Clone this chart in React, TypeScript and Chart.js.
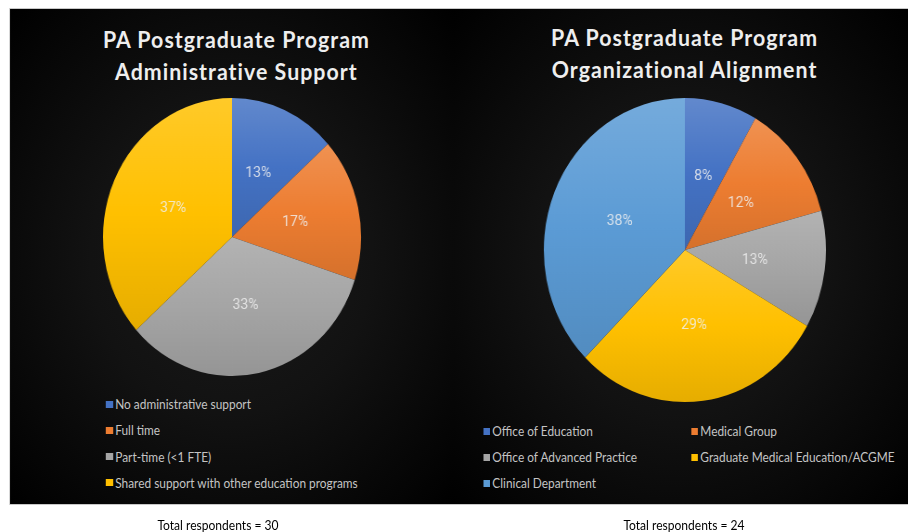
import React, { useEffect, useRef } from "react";
import { Chart, registerables } from "chart.js";

Chart.register(...registerables);

// ---- Data ----
const leftTitle = ["PA Postgraduate Program", "Administrative Support"];
const leftCategories = [
  "No administrative support",
  "Full time",
  "Part-time (<1 FTE)",
  "Shared support with other education programs",
];
const leftValues = [4, 5, 10, 11];
const leftPctLabels = ["13%", "17%", "33%", "37%"];
const leftColors = ["#4472C4", "#ED7D31", "#A5A5A5", "#FFC000"];
const leftTotal = "Total respondents = 30";

const rightTitle = ["PA Postgraduate Program", "Organizational Alignment"];
const rightCategories = [
  "Office of Education",
  "Medical Group",
  "Office of Advanced Practice",
  "Graduate Medical Education/ACGME",
  "Clinical Department",
];
const rightValues = [2, 3, 3, 7, 9];
const rightPctLabels = ["8%", "12%", "13%", "29%", "38%"];
const rightColors = ["#4472C4", "#ED7D31", "#A5A5A5", "#FFC000", "#5B9BD5"];
const rightTotal = "Total respondents = 24";

// ---- Helpers ----
const SX = 0.928; // horizontal squash of the reference picture

function mix(hex: string, target: number, amt: number) {
  const n = parseInt(hex.slice(1), 16);
  const r = (n >> 16) & 255, g = (n >> 8) & 255, b = n & 255;
  const f = (c: number) => Math.round(c + (target - c) * amt);
  return `rgb(${f(r)},${f(g)},${f(b)})`;
}

function sliceGradient(colors: string[]) {
  return (ctx: any) => {
    const chart = ctx.chart;
    const area = chart.chartArea;
    const base = colors[ctx.dataIndex % colors.length];
    if (!area) return base;
    const data: number[] = chart.data.datasets[0].data as number[];
    const total = data.reduce((a, b) => a + b, 0);
    const before = data.slice(0, ctx.dataIndex).reduce((a, b) => a + b, 0);
    const start = -Math.PI / 2 + (before / total) * Math.PI * 2;
    const end = start + (data[ctx.dataIndex] / total) * Math.PI * 2;
    const cx = (area.left + area.right) / 2;
    const cy = (area.top + area.bottom) / 2;
    const r = Math.min(area.right - area.left, area.bottom - area.top) / 2;
    let minY = cy, maxY = cy;
    for (let i = 0; i <= 60; i++) {
      const a = start + ((end - start) * i) / 60;
      const y = cy + r * Math.sin(a);
      minY = Math.min(minY, y);
      maxY = Math.max(maxY, y);
    }
    const g = chart.ctx.createLinearGradient(0, minY, 0, maxY);
    g.addColorStop(0, mix(base, 255, 0.16));
    g.addColorStop(0.5, base);
    g.addColorStop(1, mix(base, 0, 0.1));
    return g;
  };
}

function labelPlugin(labels: string[]) {
  return {
    id: "pctLabels",
    afterDatasetsDraw(chart: any) {
      const meta = chart.getDatasetMeta(0);
      const c = chart.ctx;
      c.save();
      c.font = '15px Roboto, "Noto Sans", sans-serif';
      c.fillStyle = "rgba(240,240,240,0.82)";
      c.textAlign = "center";
      c.textBaseline = "middle";
      meta.data.forEach((arc: any, i: number) => {
        const p = arc.tooltipPosition();
        c.fillText(labels[i], p.x, p.y);
      });
      c.restore();
    },
  };
}

type PieProps = {
  categories: string[];
  values: number[];
  colors: string[];
  pctLabels: string[];
  radius: number;
  cx: number;
  cy: number;
};

function Pie({ categories, values, colors, pctLabels, radius, cx, cy }: PieProps) {
  const ref = useRef<HTMLCanvasElement>(null);
  const size = radius * 2 + 4;
  useEffect(() => {
    if (!ref.current) return;
    const chart = new Chart(ref.current, {
      type: "pie",
      data: {
        labels: categories,
        datasets: [
          {
            data: values,
            backgroundColor: sliceGradient(colors) as any,
            borderWidth: 0,
          },
        ],
      },
      options: {
        responsive: false,
        maintainAspectRatio: false,
        animation: false,
        devicePixelRatio: 1,
        layout: { padding: 2 },
        plugins: { legend: { display: false }, tooltip: { enabled: false }, title: { display: false } },
      },
      plugins: [labelPlugin(pctLabels)],
    });
    return () => chart.destroy();
  }, []);
  return (
    <canvas
      ref={ref}
      width={size}
      height={size}
      style={{ position: "absolute", left: cx - size / 2, top: cy - size / 2, width: size, height: size }}
    />
  );
}

const textFont = 'Lato, "Open Sans", sans-serif';

function Title({ lines, cx, top }: { lines: string[]; cx: number; top: number }) {
  return (
    <div
      style={{
        position: "absolute",
        left: cx - 200,
        width: 400,
        top,
        textAlign: "center",
        color: "#eeeeee",
        font: `bold 23px ${textFont}`,
        lineHeight: "32px",
        letterSpacing: "1.1px",
        whiteSpace: "nowrap",
      }}
    >
      {lines.map((l, i) => (
        <div key={i}>{l}</div>
      ))}
    </div>
  );
}

function LegendItem({ label, color, x, y }: { label: string; color: string; x: number; y: number }) {
  return (
    <div style={{ position: "absolute", left: x, top: y - 10, height: 20, display: "flex", alignItems: "center", whiteSpace: "nowrap" }}>
      <div style={{ width: 7.5, height: 7, background: color, marginRight: 2.5 }} />
      <span style={{ font: `12.8px ${textFont}`, color: "#c4c4c4" }}>{label}</span>
    </div>
  );
}

const panelBg = "radial-gradient(ellipse at 50% 50%, #1b1b1b 0%, #121212 45%, #050505 85%, #000 100%)";

export default function App() {
  const innerW = 908 / SX;
  const leftX = 10 / SX;
  const midX = 453 / SX;
  return (
    <div style={{ position: "absolute", left: 0, top: 0, width: 908, height: 532, overflow: "hidden", background: "#fff" }}>
      <div style={{ position: "absolute", left: 0, top: 0, width: innerW, height: 532, transform: `scaleX(${SX})`, transformOrigin: "0 0" }}>
        {/* outer light frame */}
        <div style={{ position: "absolute", left: leftX - 1, top: 8, width: innerW - leftX + 4, height: 497, background: "#c8c8c8" }} />
        {/* dark base under both panels to avoid seams */}
        <div style={{ position: "absolute", left: leftX, top: 9, width: innerW - leftX + 2, height: 495, background: "#000" }} />
        {/* Left panel */}
        <div
          style={{
            position: "absolute",
            left: leftX,
            top: 9,
            width: midX - leftX + 1,
            height: 495,
            background: panelBg,
          }}
        >
          <Title lines={leftTitle} cx={244} top={14} />
          <Pie categories={leftCategories} values={leftValues} colors={leftColors} pctLabels={leftPctLabels} radius={139} cx={239.2} cy={228} />
          {leftCategories.map((c, i) => (
            <LegendItem key={c} label={c} color={leftColors[i]} x={103.4} y={395 + i * 26.3} />
          ))}
        </div>
        {/* Right panel */}
        <div
          style={{
            position: "absolute",
            left: midX,
            top: 9,
            width: innerW - midX + 2,
            height: 495,
            background: panelBg,
          }}
        >
          <Title lines={rightTitle} cx={249.5} top={12} />
          <Pie categories={rightCategories} values={rightValues} colors={rightColors} pctLabels={rightPctLabels} radius={152} cx={250} cy={241} />
          {rightCategories.map((c, i) => (
            <LegendItem
              key={c}
              label={c}
              color={rightColors[i]}
              x={i % 2 === 0 ? 32.4 : 256.5}
              y={422 + Math.floor(i / 2) * 26}
            />
          ))}
        </div>
        {/* Footnotes */}
        <div style={{ position: "absolute", left: 218 / SX - 150, width: 300, top: 517, textAlign: "center", font: `13px ${textFont}`, color: "#000", whiteSpace: "nowrap" }}>
          {leftTotal}
        </div>
        <div style={{ position: "absolute", left: 684 / SX - 150, width: 300, top: 517, textAlign: "center", font: `13px ${textFont}`, color: "#000", whiteSpace: "nowrap" }}>
          {rightTotal}
        </div>
      </div>
    </div>
  );
}
